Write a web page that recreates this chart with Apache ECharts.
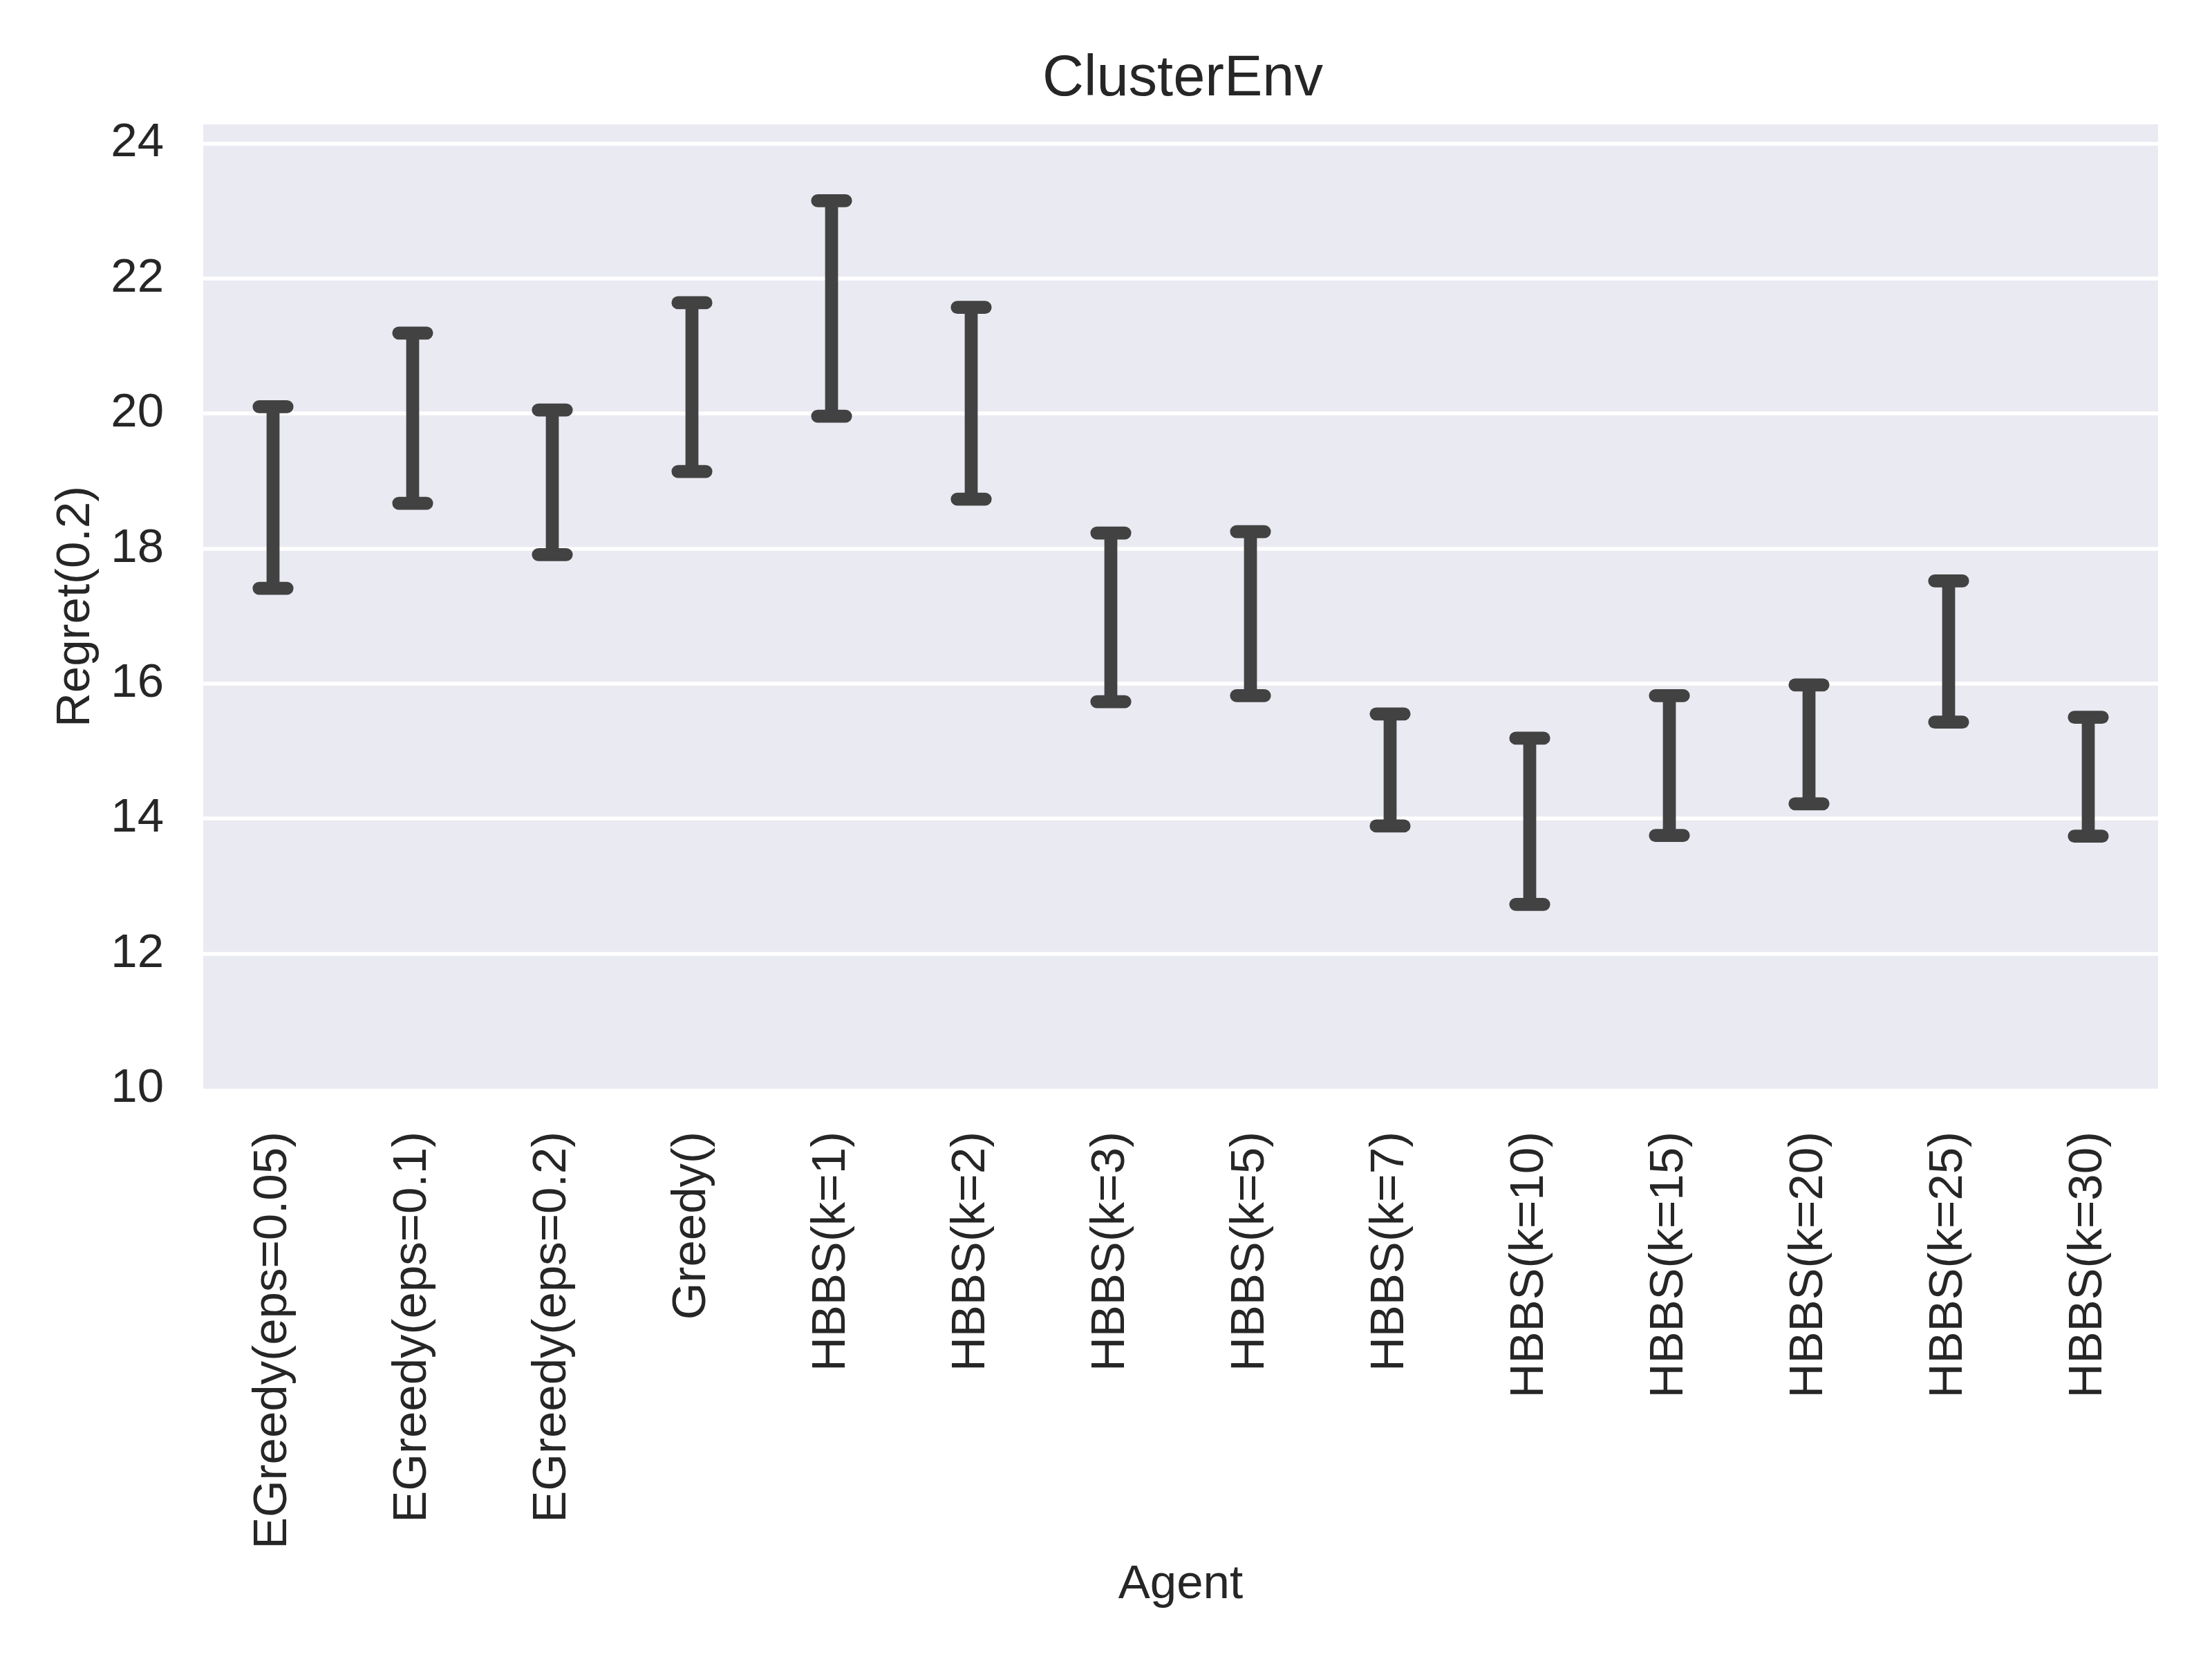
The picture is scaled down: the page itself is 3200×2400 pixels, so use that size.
<!DOCTYPE html>
<html>
<head>
<meta charset="utf-8">
<script src="https://cdn.jsdelivr.net/npm/echarts@6/dist/echarts.min.js"></script>
<style>html,body{margin:0;padding:0;background:#fff}#c{width:3200px;height:2400px}</style>
</head>
<body>
<div id="c"></div>
<script>
const categories = ['EGreedy(eps=0.05)','EGreedy(eps=0.1)','EGreedy(eps=0.2)','Greedy()','HBBS(k=1)','HBBS(k=2)','HBBS(k=3)','HBBS(k=5)','HBBS(k=7)','HBBS(k=10)','HBBS(k=15)','HBBS(k=20)','HBBS(k=25)','HBBS(k=30)'];
const lowerValues = [17.41, 18.67, 17.91, 19.14, 19.96, 18.73, 15.73, 15.82, 13.89, 12.73, 13.75, 14.22, 15.43, 13.74];
const upperValues = [20.10, 21.19, 20.05, 21.64, 23.15, 21.57, 18.23, 18.25, 15.55, 15.19, 15.82, 15.98, 17.52, 15.50];
const yTicks = [10, 12, 14, 16, 18, 20, 22, 24];

const FONT = '"Liberation Sans", Arial, sans-serif';
const TEXT = '#262626';
const BAR = '#424242';
const LW = 18.75;

const chart = echarts.init(document.getElementById('c'), null, {renderer: 'canvas'});
const data = categories.map((c, i) => [i, lowerValues[i], upperValues[i]]);

chart.setOption({
  backgroundColor: '#ffffff',
  animation: false,
  title: {
    text: 'ClusterEnv',
    left: 1706,
    textAlign: 'center',
    top: 69,
    textStyle: {fontFamily: FONT, fontSize: 83, fontWeight: 'normal', color: TEXT}
  },
  grid: {left: 294, right: 78, top: 180, bottom: 825, show: true, backgroundColor: '#EAEAF2', borderWidth: 0},
  xAxis: {
    type: 'category',
    data: categories,
    boundaryGap: true,
    name: 'Agent',
    nameLocation: 'middle',
    nameGap: 683,
    nameTextStyle: {fontFamily: FONT, fontSize: 69, color: TEXT},
    axisLine: {show: false},
    axisTick: {show: false},
    splitLine: {show: false},
    axisLabel: {rotate: 90, margin: 62, interval: 0, fontFamily: FONT, fontSize: 69, color: TEXT}
  },
  yAxis: {
    type: 'value',
    min: 10,
    max: 24.28,
    interval: 2,
    name: 'Regret(0.2)',
    nameLocation: 'middle',
    nameGap: 150,
    nameRotate: 90,
    nameTextStyle: {fontFamily: FONT, fontSize: 69, color: TEXT},
    axisLine: {show: false},
    axisTick: {show: false},
    splitLine: {show: true, showMinLine: false, showMaxLine: false, lineStyle: {color: '#ffffff', width: 5.5}},
    axisLabel: {
      margin: 57, fontFamily: FONT, fontSize: 69, color: TEXT,
      padding: [10, 0, 0, 0],
      showMaxLabel: false,
      formatter: v => (yTicks.indexOf(Math.round(v * 100) / 100) >= 0 ? String(Math.round(v)) : '')
    }
  },
  series: [{
    type: 'custom',
    data: data,
    encode: {x: 0, y: [1, 2]},
    renderItem: function (params, api) {
      const i = api.value(0);
      const lo = api.coord([i, api.value(1)]);
      const hi = api.coord([i, api.value(2)]);
      const bw = api.size([1, 0])[0];
      const half = bw * 0.1;
      return {
        type: 'group',
        children: [
          {type: 'line', shape: {x1: lo[0], y1: lo[1], x2: hi[0], y2: hi[1]}, style: {stroke: BAR, lineWidth: LW, lineCap: 'butt'}},
          {type: 'line', shape: {x1: hi[0] - half, y1: hi[1], x2: hi[0] + half, y2: hi[1]}, style: {stroke: BAR, lineWidth: LW, lineCap: 'round'}},
          {type: 'line', shape: {x1: lo[0] - half, y1: lo[1], x2: lo[0] + half, y2: lo[1]}, style: {stroke: BAR, lineWidth: LW, lineCap: 'round'}}
        ]
      };
    }
  }]
});
</script>
</body>
</html>
